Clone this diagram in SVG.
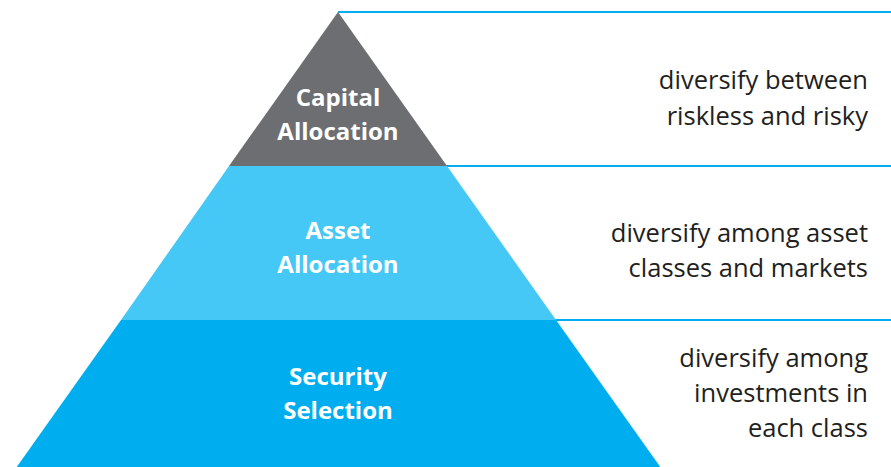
<svg xmlns="http://www.w3.org/2000/svg" width="891" height="467" viewBox="0 0 891 467">
<style>
.lbl{font-family:"Open Sans","Liberation Sans",sans-serif;font-size:24px;font-weight:bold;fill:#ffffff;text-anchor:middle}
.desc{font-family:"Open Sans","Liberation Sans",sans-serif;font-size:25.5px;fill:#231f20;text-anchor:end}
.conn{stroke:#00aeef;stroke-width:2;fill:none}
</style>
<rect width="891" height="467" fill="#ffffff"/>
<g id="connectors">
<line class="conn" x1="338" y1="12" x2="891" y2="12"/>
<line class="conn" x1="445" y1="166" x2="891" y2="166"/>
<line class="conn" x1="555" y1="320" x2="891" y2="320"/>
</g>
<g id="tier-capital">
<polygon points="338,12 447,166 229,166" fill="#6d6e71"/>
<text class="lbl" x="338" y="106">Capital</text>
<text class="lbl" x="338" y="140">Allocation</text>
</g>
<g id="tier-asset">
<polygon points="229,166 447,166 556,320 121,320" fill="#45c8f5"/>
<text class="lbl" x="338" y="239">Asset</text>
<text class="lbl" x="338" y="273">Allocation</text>
</g>
<g id="tier-security">
<polygon points="121,320 556,320 661,468 16,468" fill="#00adee"/>
<text class="lbl" x="338" y="385">Security</text>
<text class="lbl" x="338" y="419">Selection</text>
</g>
<g id="desc-capital">
<text class="desc" x="868" y="89">diversify between</text>
<text class="desc" x="868" y="125">riskless and risky</text>
</g>
<g id="desc-asset">
<text class="desc" x="868" y="242">diversify among asset</text>
<text class="desc" x="868" y="277">classes and markets</text>
</g>
<g id="desc-security">
<text class="desc" x="868" y="367">diversify among</text>
<text class="desc" x="868" y="402">investments in</text>
<text class="desc" x="868" y="437">each class</text>
</g>
</svg>
